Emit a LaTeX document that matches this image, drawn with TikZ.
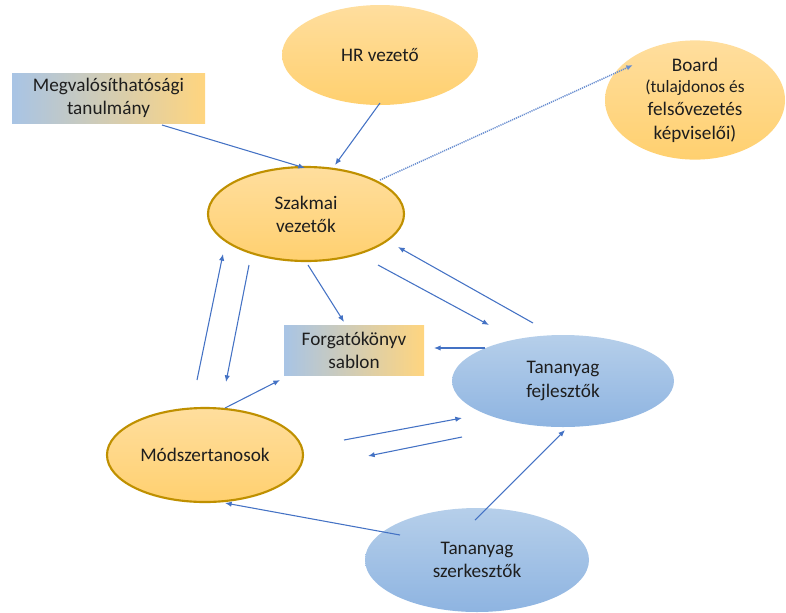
\documentclass[tikz,border=0pt]{standalone}
\usepackage{fontspec}
\setmainfont{Carlito}
\usetikzlibrary{shapes.geometric,calc,arrows.meta}
\definecolor{arrowblue}{HTML}{4472C4}
\definecolor{goldtop}{HTML}{FFDE9E}
\definecolor{goldbot}{HTML}{FFD06F}
\definecolor{goldedge}{HTML}{BF9000}
\definecolor{bluetop}{HTML}{B6CFEA}
\definecolor{bluebot}{HTML}{8EB4E1}
\definecolor{rectblue}{HTML}{A8C4E5}
\definecolor{rectgold}{HTML}{FFD57F}
\definecolor{inktext}{HTML}{1E1E1E}
\tikzset{
  lbl/.style={font=\fontsize{14.4pt}{17.3pt}\selectfont, text=inktext, align=center, inner sep=0pt},
  goldell/.style={ellipse, lbl, top color=goldtop, bottom color=goldbot},
  goldring/.style={goldell, draw=goldedge, line width=1.6pt},
  blueell/.style={ellipse, lbl, top color=bluetop, bottom color=bluebot},
  gradbox/.style={rectangle, lbl, left color=rectblue, right color=rectgold},
  conn/.style={draw=arrowblue, line width=0.8pt, -{Latex[length=5pt,width=4pt]}},
  dotconn/.style={conn, draw=arrowblue!80, line width=1.1pt, dash pattern=on 0.9pt off 0.7pt}
}
\begin{document}
\begin{tikzpicture}[x=0.75pt,y=-0.75pt]
\useasboundingbox (0,0) rectangle (786,612);

% participants
\node[goldell, minimum width=147pt, minimum height=75pt] (hr) at (380,55) {HR vezető};
\node[goldell, minimum width=135pt, minimum height=67.5pt] (board) at (695,100)
  {Board\\[-1pt]\fontsize{13pt}{15.7pt}\selectfont (tulajdonos és\\felsővezetés\\képviselői)};
\node[gradbox, minimum width=144.75pt, minimum height=37.5pt] (megv) at (108.5,98)
  {Megvalósíthatósági\\tanulmány};
\node[goldring, minimum width=147pt, minimum height=70.5pt] (szakmai) at (306,214)
  {Szakmai\\vezetők};
\node[gradbox, minimum width=105pt, minimum height=37.5pt] (forg) at (354,350)
  {Forgatókönyv\\sablon};
\node[blueell, minimum width=166.5pt, minimum height=69pt] (fejl) at (563,381)
  {Tananyag\\fejlesztők};
\node[goldring, minimum width=147pt, minimum height=70.5pt] (mod) at (205,455)
  {Módszertanosok};
\node[blueell, minimum width=168pt, minimum height=78pt] (szerk) at (477,560)
  {Tananyag\\szerkesztők};

% connectors
\draw[conn] ($(megv)+(53.5,27)$) -- ($(szakmai)+(-1,-46)$);
\draw[conn] ($(hr)+(0,48)$) -- ($(szakmai)+(29,-49)$);
\draw[dotconn] ($(szakmai)+(74,-34)$) -- ($(board)+(-62,-35)$);
\draw[conn] ($(szakmai)+(2,51)$) -- ($(forg)+(-10,-28)$);
\draw[conn] ($(szakmai)+(72,51)$) -- ($(fejl)+(-74,-56)$);
\draw[conn] ($(fejl)+(-30,-58)$) -- ($(szakmai)+(92,33)$);
\draw[conn] ($(fejl)+(-78,-33)$) -- ($(forg)+(80,-2)$);
\draw[conn] ($(mod)+(-8,-75)$) -- ($(szakmai)+(-83,40)$);
\draw[conn] ($(szakmai)+(-57,51)$) -- ($(mod)+(21,-73)$);
\draw[conn] ($(mod)+(20,-47)$) -- ($(forg)+(-74,30)$);
\draw[conn] ($(mod)+(139,-15)$) -- ($(fejl)+(-101,37)$);
\draw[conn] ($(fejl)+(-101,56)$) -- ($(mod)+(163,1)$);
\draw[conn] ($(szerk)+(-77,-25)$) -- ($(mod)+(20,48)$);
\draw[conn] ($(szerk)+(-2,-40)$) -- ($(fejl)+(2,49)$);
\end{tikzpicture}
\end{document}
